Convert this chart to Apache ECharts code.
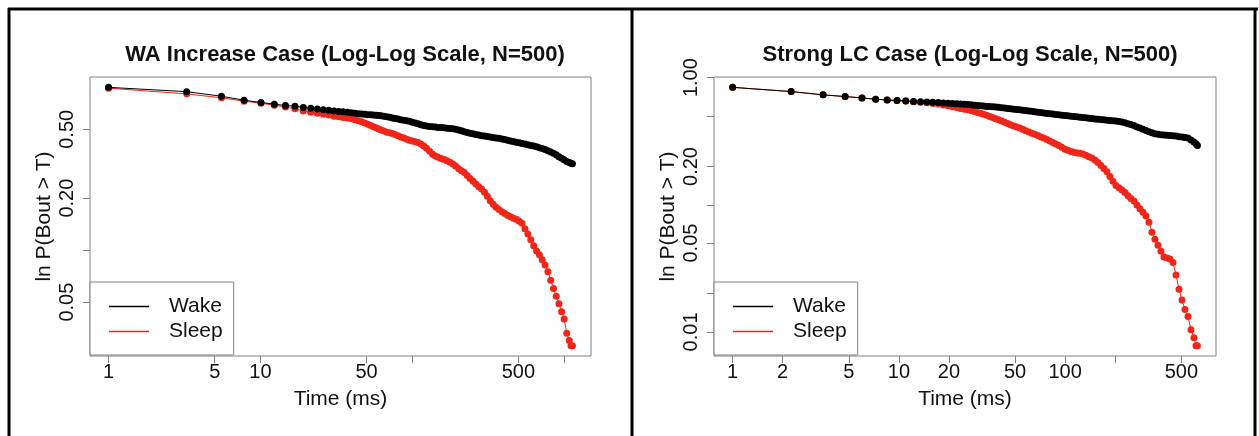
<!DOCTYPE html>
<html>
<head>
<meta charset="utf-8">
<script src="https://cdn.jsdelivr.net/npm/echarts@6/dist/echarts.min.js"></script>
<style>
  html, body { margin: 0; padding: 0; background: #ffffff; }
  #chart { width: 1259px; height: 436px; }
</style>
</head>
<body>
<div id="chart"></div>
<script>
// ---- WA Increase case: survival of bout lengths (Time in ms) ----
const waTime = [1, 3.27, 5.54, 7.81, 10.08, 12.35, 14.62, 16.89, 19.16, 21.43,
  23.7, 25.97, 28.24, 30.51, 32.78, 35.05, 37.32, 39.59, 41.86, 44.13,
  46.4, 48.67, 50.94, 53.21, 55.48, 57.75, 60.02, 62.3, 65, 68,
  71, 74, 77, 80.5, 84, 88, 92, 96, 100, 104.5,
  109, 114, 119, 124, 130, 136, 142, 148, 155, 162,
  169, 177, 185, 193, 202, 211, 220, 230, 240, 251,
  262, 274, 286, 299, 312, 326, 341, 356, 372, 389,
  406, 424, 443, 463, 484, 506, 528, 552, 577, 603,
  630, 658, 687, 717, 749, 782, 816, 851, 887, 924,
  962, 1000, 1040, 1080, 1110, 1134];
const waWake = [0.875, 0.826, 0.777, 0.737, 0.715, 0.699, 0.687, 0.681, 0.669, 0.662,
  0.655, 0.650, 0.645, 0.638, 0.634, 0.631, 0.627, 0.623, 0.619, 0.616,
  0.613, 0.611, 0.608, 0.607, 0.605, 0.604, 0.602, 0.599, 0.595, 0.591,
  0.587, 0.582, 0.578, 0.574, 0.569, 0.565, 0.560, 0.556, 0.550, 0.544,
  0.538, 0.532, 0.527, 0.522, 0.520, 0.518, 0.515, 0.513, 0.512, 0.510,
  0.508, 0.506, 0.504, 0.500, 0.495, 0.490, 0.484, 0.479, 0.475, 0.471,
  0.467, 0.463, 0.459, 0.457, 0.454, 0.451, 0.448, 0.446, 0.444, 0.440,
  0.437, 0.433, 0.428, 0.425, 0.421, 0.418, 0.414, 0.411, 0.407, 0.403,
  0.400, 0.396, 0.391, 0.387, 0.382, 0.376, 0.370, 0.363, 0.356, 0.347,
  0.340, 0.333, 0.326, 0.321, 0.318, 0.316];
const waSleep = [0.865, 0.802, 0.761, 0.728, 0.708, 0.690, 0.673, 0.657, 0.639, 0.628,
  0.619, 0.612, 0.605, 0.596, 0.591, 0.586, 0.581, 0.575, 0.568, 0.561,
  0.553, 0.544, 0.535, 0.526, 0.518, 0.511, 0.503, 0.496, 0.489, 0.481,
  0.478, 0.473, 0.466, 0.459, 0.452, 0.445, 0.438, 0.433, 0.428, 0.424,
  0.419, 0.411, 0.400, 0.389, 0.373, 0.359, 0.351, 0.345, 0.339, 0.334,
  0.329, 0.322, 0.315, 0.307, 0.296, 0.288, 0.281, 0.270, 0.260, 0.250,
  0.241, 0.233, 0.226, 0.216, 0.205, 0.193, 0.184, 0.177, 0.172, 0.167,
  0.163, 0.159, 0.156, 0.153, 0.151, 0.147, 0.143, 0.133, 0.124, 0.115,
  0.106, 0.099, 0.094, 0.088, 0.082, 0.075, 0.067, 0.060, 0.054, 0.049,
  0.044, 0.040, 0.033, 0.030, 0.028, 0.028];

// ---- Strong LC case ----
const lcTime = [1, 2.25, 3.5, 4.75, 6, 7.25, 8.5, 9.75, 11, 12.25,
  13.5, 14.75, 16, 17.25, 18.5, 19.75, 21, 22.25, 23.5, 24.75,
  26, 27.25, 28.5, 29.75, 31, 32.3, 33.7, 35.1, 36.6, 38.2,
  39.8, 41.5, 43.3, 45.1, 47, 49, 51.1, 53.3, 55.6, 58,
  60.5, 63, 65.7, 68.5, 71.4, 74.4, 77.6, 80.9, 84.3, 87.9,
  91.6, 95.5, 99.6, 103.8, 108.2, 112.8, 117.6, 122.6, 127.8, 133.2,
  138.9, 144.8, 151, 157.4, 164, 171, 178.3, 185.9, 193.8, 202,
  210.6, 219.5, 228.8, 238.5, 248.6, 259.2, 270.2, 281.7, 293.6, 306,
  319, 332.6, 346.7, 361.4, 376.7, 392.7, 409.4, 426.8, 444.9, 463.8,
  483.5, 504, 525.4, 547.7, 571, 595, 612, 624];
const lcWake = [0.839, 0.777, 0.732, 0.710, 0.693, 0.676, 0.668, 0.660, 0.655, 0.650,
  0.646, 0.642, 0.640, 0.637, 0.633, 0.630, 0.627, 0.623, 0.621, 0.617,
  0.614, 0.611, 0.606, 0.603, 0.600, 0.598, 0.594, 0.592, 0.589, 0.587,
  0.584, 0.580, 0.576, 0.572, 0.568, 0.565, 0.562, 0.559, 0.555, 0.551,
  0.547, 0.543, 0.539, 0.535, 0.531, 0.527, 0.523, 0.520, 0.518, 0.514,
  0.510, 0.507, 0.504, 0.502, 0.498, 0.494, 0.492, 0.489, 0.486, 0.483,
  0.479, 0.477, 0.473, 0.471, 0.468, 0.466, 0.463, 0.461, 0.458, 0.456,
  0.452, 0.447, 0.441, 0.434, 0.428, 0.420, 0.410, 0.401, 0.393, 0.384,
  0.376, 0.368, 0.362, 0.358, 0.356, 0.354, 0.352, 0.351, 0.349, 0.347,
  0.343, 0.341, 0.338, 0.335, 0.323, 0.312, 0.302, 0.293];
const lcSleep = [0.839, 0.777, 0.732, 0.710, 0.693, 0.676, 0.668, 0.660, 0.655, 0.647,
  0.641, 0.635, 0.627, 0.620, 0.610, 0.601, 0.591, 0.582, 0.573, 0.565,
  0.558, 0.550, 0.541, 0.532, 0.524, 0.515, 0.505, 0.495, 0.486, 0.475,
  0.466, 0.457, 0.446, 0.435, 0.426, 0.417, 0.409, 0.401, 0.393, 0.383,
  0.374, 0.366, 0.358, 0.351, 0.342, 0.335, 0.326, 0.318, 0.309, 0.301,
  0.292, 0.283, 0.274, 0.268, 0.263, 0.259, 0.256, 0.254, 0.251, 0.245,
  0.239, 0.233, 0.225, 0.215, 0.204, 0.193, 0.182, 0.167, 0.153, 0.142,
  0.136, 0.131, 0.125, 0.118, 0.112, 0.107, 0.0995, 0.0932, 0.0872, 0.0818,
  0.0729, 0.0609, 0.0537, 0.0481, 0.0431, 0.0389, 0.0382, 0.0375, 0.0352, 0.0281,
  0.0217, 0.0178, 0.0150, 0.0132, 0.0104, 0.0090, 0.0078, 0.0078];

// ---- tick marks and the labelled subset of them ----
const waXTicks = [1, 5, 10, 50, 100, 500, 1000];
const waXLabels = [1, 5, 10, 50, 500];
const waYTicks = [0.05, 0.1, 0.2, 0.5];
const waYLabels = [0.05, 0.2, 0.5];
const lcXTicks = [1, 2, 5, 10, 20, 50, 100, 200, 500];
const lcXLabels = [1, 2, 5, 10, 20, 50, 100, 500];
const lcYTicks = [0.01, 0.02, 0.05, 0.1, 0.2, 0.5, 1];
const lcYLabels = [0.01, 0.05, 0.2, 1];

const FONT = '"Liberation Sans", Arial, Helvetica, sans-serif';
const INK = '#111111';
const BOX = '#808080';
const WAKE_COLOR = '#000000';
const SLEEP_COLOR = '#f0261a';

// log range of the data widened by 4% on each side
function paddedLogRange(arrays) {
  let lo = Infinity, hi = -Infinity;
  arrays.forEach(a => a.forEach(v => { lo = Math.min(lo, v); hi = Math.max(hi, v); }));
  const a = Math.log10(lo), b = Math.log10(hi), d = (b - a) * 0.04;
  return [Math.pow(10, a - d), Math.pow(10, b + d)];
}

function pairs(xs, ys) { return xs.map((x, i) => [x, ys[i]]); }

function xAxisFor(gridIndex, times, ticks, labels) {
  const r = paddedLogRange([times]);
  return {
    type: 'log', gridIndex, min: r[0], max: r[1],
    name: 'Time (ms)', nameLocation: 'middle', nameGap: 33,
    nameTextStyle: { fontFamily: FONT, fontSize: 21, color: INK },
    axisLine: { show: false },
    splitLine: { show: false },
    axisTick: { show: true, length: 7, lineStyle: { color: BOX, width: 1 }, customValues: ticks },
    axisLabel: { customValues: labels, margin: 6, fontFamily: FONT, fontSize: 20, color: INK,
      formatter: v => String(v) }
  };
}

function yAxisFor(gridIndex, seriesValues, ticks, labels) {
  const r = paddedLogRange(seriesValues);
  return {
    type: 'log', gridIndex, min: r[0], max: r[1],
    name: 'ln P(Bout > T)', nameLocation: 'middle', nameGap: 35, nameRotate: 90,
    nameTextStyle: { fontFamily: FONT, fontSize: 21, color: INK },
    axisLine: { show: false },
    splitLine: { show: false },
    axisTick: { show: true, length: 7, lineStyle: { color: BOX, width: 1 }, customValues: ticks },
    axisLabel: { customValues: labels, rotate: 90, margin: 13, fontFamily: FONT, fontSize: 20, color: INK,
      formatter: v => Number(v).toFixed(2) }
  };
}

function curve(name, xi, yi, data, color, z) {
  return {
    type: 'line', name, xAxisIndex: xi, yAxisIndex: yi, data,
    symbol: 'circle', symbolSize: 7, showSymbol: true,
    lineStyle: { color, width: 1 }, itemStyle: { color, borderWidth: 0 }, color,
    z, animation: false, silent: true
  };
}

function legendItem(name, color) {
  return {
    name, icon: 'rect',
    itemStyle: { color, borderColor: color, borderWidth: 0, opacity: 1 },
    lineStyle: { color, width: 0 }
  };
}

function legendAt(left) {
  return {
    orient: 'vertical', left, top: 282,
    backgroundColor: '#ffffff', borderColor: BOX, borderWidth: 1,
    padding: [12, 11, 11, 19], itemGap: 0,
    itemWidth: 40, itemHeight: 1.5,
    selectedMode: false,
    textStyle: { fontFamily: FONT, fontSize: 21, color: INK, lineHeight: 25, padding: [0, 0, 0, 15] },
    data: [legendItem('Wake', WAKE_COLOR), legendItem('Sleep', SLEEP_COLOR)]
  };
}

function titleAt(center, text) {
  return {
    text, left: center, top: 39, textAlign: 'center',
    textStyle: { fontFamily: FONT, fontSize: 22, fontWeight: 'bold', color: INK }
  };
}

// black frame around and between the two panels
const frame = [
  { x: 8, y: 7.5, width: 1250, height: 3 },
  { x: 7.5, y: 8, width: 3, height: 430 },
  { x: 630.5, y: 8, width: 3, height: 430 },
  { x: 1253.5, y: 8, width: 3, height: 430 }
].map(s => ({ type: 'rect', shape: s, style: { fill: '#000000' }, silent: true, z: 100 }));

const chart = echarts.init(document.getElementById('chart'), null, { renderer: 'canvas' });
chart.setOption({
  animation: false,
  backgroundColor: '#ffffff',
  title: [
    titleAt(340, 'WA Increase Case (Log-Log Scale, N=500)'),
    titleAt(965, 'Strong LC Case (Log-Log Scale, N=500)')
  ],
  grid: [
    { left: 90, top: 77, width: 501, height: 279, show: true, borderColor: BOX, borderWidth: 1, backgroundColor: 'transparent' },
    { left: 714, top: 77, width: 502, height: 279, show: true, borderColor: BOX, borderWidth: 1, backgroundColor: 'transparent' }
  ],
  xAxis: [
    xAxisFor(0, waTime, waXTicks, waXLabels),
    xAxisFor(1, lcTime, lcXTicks, lcXLabels)
  ],
  yAxis: [
    yAxisFor(0, [waWake, waSleep], waYTicks, waYLabels),
    yAxisFor(1, [lcWake, lcSleep], lcYTicks, lcYLabels)
  ],
  legend: [legendAt(90), legendAt(714)],
  series: [
    curve('Sleep', 0, 0, pairs(waTime, waSleep), SLEEP_COLOR, 2),
    curve('Wake', 0, 0, pairs(waTime, waWake), WAKE_COLOR, 3),
    curve('Sleep', 1, 1, pairs(lcTime, lcSleep), SLEEP_COLOR, 2),
    curve('Wake', 1, 1, pairs(lcTime, lcWake), WAKE_COLOR, 3)
  ],
  graphic: frame
});
</script>
</body>
</html>
